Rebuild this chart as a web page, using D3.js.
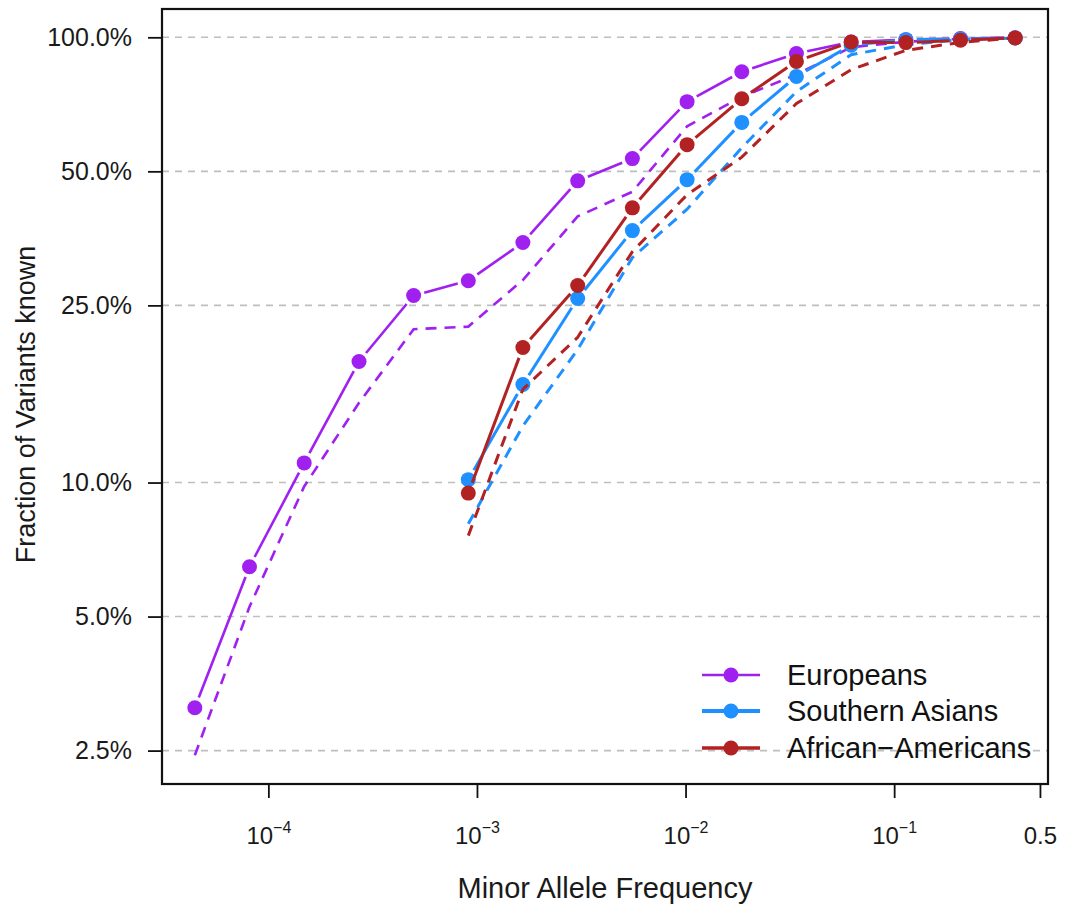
<!DOCTYPE html>
<html>
<head>
<meta charset="utf-8">
<script src="https://cdn.jsdelivr.net/npm/d3@7"></script>
<style>
  html, body { margin: 0; padding: 0; background: #ffffff; }
  svg { display: block; }
  .tick-label { font-family: "Liberation Sans", Arial, sans-serif; fill: #1a1a1a; }
  .title { font-family: "Liberation Sans", Arial, sans-serif; fill: #1a1a1a; }
  .legend-text { font-family: "Liberation Sans", Arial, sans-serif; fill: #111; }
</style>
</head>
<body>
<svg id="chart" width="1066" height="907"></svg>
<script>
// Minor allele frequency bin centres (log-spaced)
const mafBins = [4.44e-5, 8.12e-5, 1.485e-4, 2.72e-4, 4.97e-4, 9.09e-4, 1.66e-3, 3.04e-3,
                 5.56e-3, 1.017e-2, 1.86e-2, 3.40e-2, 6.22e-2, 0.1138, 0.208, 0.3804];

// Fraction of variants known (%), solid = with points, dashed = companion line
const eurKnown  = [3.12, 6.47, 11.07, 18.7, 26.3, 28.4, 34.6, 47.6, 53.4, 71.7, 83.7, 92.0, 97.6, 98.8, 99.4, 99.8];
const eurDashed = [2.44, 5.26, 9.8, 15.1, 22.1, 22.4, 28.5, 39.6, 45.0, 63.1, 73.5, 82.5, 95.0, 97.7, 99.3, 99.8];

// South Asian and African-American series start at the 6th bin
const sasKnown  = [10.15, 16.6, 25.9, 36.8, 47.9, 64.4, 81.7, 96.0, 98.8, 99.1, 99.7];
const sasDashed = [8.08, 13.4, 19.9, 32.0, 41.1, 56.5, 75.5, 91.4, 96.3, 98.8, 99.6];

const afrKnown  = [9.47, 20.1, 27.7, 41.4, 57.4, 72.8, 88.3, 97.6, 97.3, 98.5, 99.7];
const afrDashed = [7.6, 16.2, 21.2, 33.0, 44.3, 53.8, 71.0, 84.6, 93.5, 97.4, 99.7];

const seriesNames = ["Europeans", "Southern Asians", "African\u2212Americans"];
const seriesColors = ["#A020F0", "#1E90FF", "#B22222"];

const yTickValues = [0.025, 0.05, 0.1, 0.25, 0.5, 1.0];
const yTickLabels = ["2.5%", "5.0%", "10.0%", "25.0%", "50.0%", "100.0%"];
const xTickValues = [1e-4, 1e-3, 1e-2, 1e-1, 0.5];
const xTickLabels = [["10", "\u22124"], ["10", "\u22123"], ["10", "\u22122"], ["10", "\u22121"], ["0.5", ""]];

const series = [
  { name: seriesNames[0], color: seriesColors[0], start: 0, known: eurKnown, dashed: eurDashed, lw: 2.6, legendLw: 2.4 },
  { name: seriesNames[1], color: seriesColors[1], start: 5, known: sasKnown, dashed: sasDashed, lw: 3.0, legendLw: 4.0 },
  { name: seriesNames[2], color: seriesColors[2], start: 5, known: afrKnown, dashed: afrDashed, lw: 3.0, legendLw: 3.4 }
];

// ---- layout ----
const plot = { left: 162, right: 1048, top: 9, bottom: 784 };
const svg = d3.select("#chart");

// log-space extent padded by 4% on each side
function paddedLogDomain(lo, hi) {
  const a = Math.log10(lo), b = Math.log10(hi), pad = (b - a) * 0.04;
  return [Math.pow(10, a - pad), Math.pow(10, b + pad)];
}
const allY = [...eurKnown, ...eurDashed, ...sasKnown, ...sasDashed, ...afrKnown, ...afrDashed].map(v => v / 100);
const x = d3.scaleLog().domain(paddedLogDomain(d3.min(mafBins), d3.max(mafBins))).range([plot.left, plot.right]);
const y = d3.scaleLog().domain(paddedLogDomain(d3.min(allY), d3.max(allY))).range([plot.bottom, plot.top]);

// ---- horizontal reference lines ----
svg.append("g").selectAll("line").data(yTickValues).join("line")
  .attr("x1", plot.left).attr("x2", plot.right)
  .attr("y1", d => y(d)).attr("y2", d => y(d))
  .attr("stroke", "#bebebe").attr("stroke-width", 1.6).attr("stroke-dasharray", "7,6");

// ---- data ----
function pointsOf(s, values) {
  return values.map((v, i) => [x(mafBins[s.start + i]), y(v / 100)]);
}

const gData = svg.append("g");
const gap = 11;
series.forEach(s => {
  const pts = pointsOf(s, s.known);
  const dpts = pointsOf(s, s.dashed);

  // dashed companion line
  gData.append("path")
    .attr("d", d3.line()(dpts))
    .attr("fill", "none").attr("stroke", s.color).attr("stroke-width", s.lw)
    .attr("stroke-dasharray", "11,8").attr("stroke-linecap", "butt");

  // solid line broken around each point
  const segs = [];
  for (let i = 0; i < pts.length - 1; i++) {
    const [x1, y1] = pts[i], [x2, y2] = pts[i + 1];
    const len = Math.hypot(x2 - x1, y2 - y1);
    if (len > 2 * gap) {
      const ux = (x2 - x1) / len, uy = (y2 - y1) / len;
      segs.push([[x1 + ux * gap, y1 + uy * gap], [x2 - ux * gap, y2 - uy * gap]]);
    }
  }
  gData.append("g").selectAll("line").data(segs).join("line")
    .attr("x1", d => d[0][0]).attr("y1", d => d[0][1])
    .attr("x2", d => d[1][0]).attr("y2", d => d[1][1])
    .attr("stroke", s.color).attr("stroke-width", s.lw);

  gData.append("g").selectAll("circle").data(pts).join("circle")
    .attr("cx", d => d[0]).attr("cy", d => d[1]).attr("r", 7.5)
    .attr("fill", s.color);
});

// ---- axes ----
const yAxis = d3.axisLeft(y).tickValues(yTickValues).tickFormat((d, i) => yTickLabels[i])
  .tickSize(14).tickPadding(16);
const gy = svg.append("g").attr("transform", `translate(${plot.left},0)`).call(yAxis);
gy.select(".domain").remove();
gy.selectAll(".tick line").attr("stroke", "#111").attr("stroke-width", 1.8);
gy.selectAll(".tick text").attr("class", "tick-label").style("font-size", "25px").attr("fill", "#1a1a1a");

const xAxis = d3.axisBottom(x).tickValues(xTickValues).tickFormat("").tickSize(14);
const gx = svg.append("g").attr("transform", `translate(0,${plot.bottom})`).call(xAxis);
gx.select(".domain").remove();
gx.selectAll(".tick line").attr("stroke", "#111").attr("stroke-width", 1.8);
gx.selectAll(".tick").each(function (d, i) {
  const [base, exp] = xTickLabels[i];
  const t = d3.select(this).append("text").attr("class", "tick-label")
    .attr("y", 60).attr("text-anchor", "middle").style("font-size", "24px").attr("fill", "#1a1a1a");
  t.append("tspan").text(base);
  if (exp) t.append("tspan").attr("dy", -11).style("font-size", "16px").text(exp);
});

// ---- frame ----
svg.append("rect")
  .attr("x", plot.left).attr("y", plot.top)
  .attr("width", plot.right - plot.left).attr("height", plot.bottom - plot.top)
  .attr("fill", "none").attr("stroke", "#111").attr("stroke-width", 2.2);

// ---- titles ----
svg.append("text").attr("class", "title")
  .attr("x", (plot.left + plot.right) / 2).attr("y", 898)
  .attr("text-anchor", "middle").style("font-size", "29px")
  .text("Minor Allele Frequency");
svg.append("text").attr("class", "title")
  .attr("transform", `translate(35,${(plot.top + plot.bottom) / 2 + 8}) rotate(-90)`)
  .attr("text-anchor", "middle").style("font-size", "27px")
  .text("Fraction of Variants known");

// ---- legend ----
const legend = svg.append("g");
const rowY = [675, 711, 748];
series.forEach((s, i) => {
  legend.append("line").attr("x1", 702).attr("x2", 760).attr("y1", rowY[i]).attr("y2", rowY[i])
    .attr("stroke", s.color).attr("stroke-width", s.legendLw);
  legend.append("circle").attr("cx", 731).attr("cy", rowY[i]).attr("r", 7.5).attr("fill", s.color);
  legend.append("text").attr("class", "legend-text").attr("x", 787).attr("y", rowY[i] + 10)
    .style("font-size", "29px").text(s.name);
});
</script>
</body>
</html>
